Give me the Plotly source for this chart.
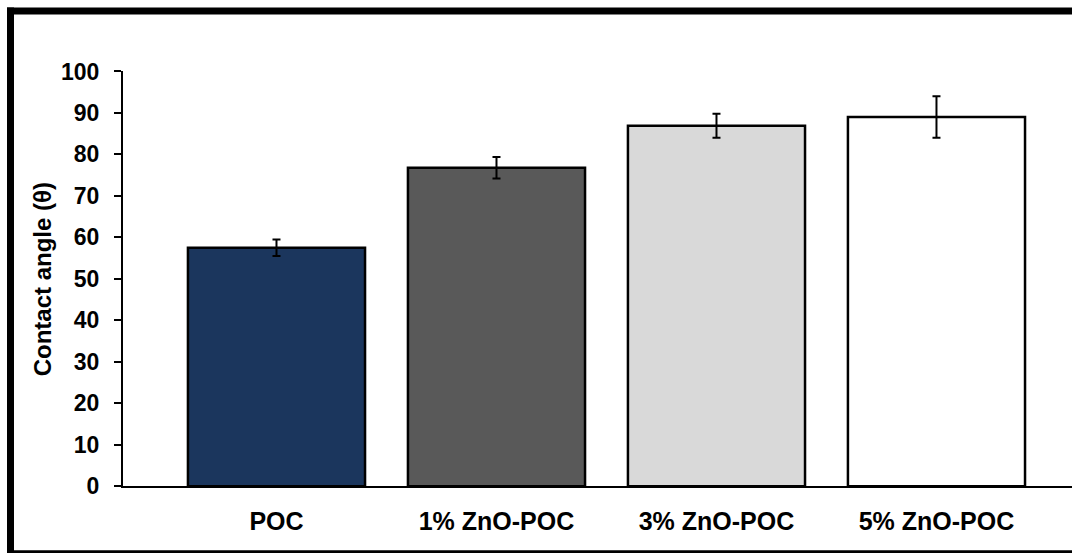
import plotly.graph_objects as go

# Contact angle per coating formulation
categories = ["POC", "1% ZnO-POC", "3% ZnO-POC", "5% ZnO-POC"]
contact_angle = [57.5, 76.8, 86.9, 89.0]
angle_sd = [2.0, 2.6, 2.9, 5.0]
bar_colors = ["#1B365D", "#595959", "#D9D9D9", "#FFFFFF"]
y_ticks = [0, 10, 20, 30, 40, 50, 60, 70, 80, 90, 100]

W, H = 1072, 553
FONT = "Arial, 'Liberation Sans', sans-serif"

# vertical paper extent as laid out on the page
PAPER_TOP, PAPER_H = 12.5, 527.3


def px_x(p):
    return p / W


def px_y(p):
    return 1 - (p - PAPER_TOP) / PAPER_H


positions = list(range(len(categories)))

fig = go.Figure()
fig.add_trace(go.Bar(
    x=positions,
    y=contact_angle,
    width=0.805,
    marker=dict(color=bar_colors, line=dict(color="black", width=2.5)),
    error_y=dict(type="data", array=angle_sd, visible=True,
                 color="black", thickness=2, width=4),
    showlegend=False,
))

fig.update_layout(
    width=W, height=H,
    margin=dict(l=0, r=0, t=0, b=0),
    paper_bgcolor="white",
    plot_bgcolor="white",
    font=dict(family=FONT, color="black"),
    xaxis=dict(
        domain=[px_x(123), 1],
        range=[-0.6977, 3.616],
        tickmode="array",
        tickvals=positions,
        ticktext=categories,
        ticks="",
        showline=True, linecolor="black", linewidth=2,
        showgrid=False, zeroline=False,
        tickfont=dict(size=25, weight="bold", family=FONT),
        ticklabelstandoff=12,
    ),
    yaxis=dict(
        domain=[px_y(486), px_y(71)],
        range=[0, 100],
        tickmode="array",
        tickvals=y_ticks,
        ticks="outside", ticklen=7, tickwidth=2, tickcolor="black",
        showline=True, linecolor="black", linewidth=2,
        showgrid=False, zeroline=False,
        tickfont=dict(size=23, weight="bold", family=FONT),
        ticklabelstandoff=10,
    ),
    annotations=[dict(
        text="Contact angle (θ)",
        x=px_x(42), y=px_y(279), xref="paper", yref="paper",
        xanchor="center", yanchor="middle",
        textangle=-90, showarrow=False,
        font=dict(size=24, weight="bold", family=FONT),
    )],
    shapes=[
        # outer frame: top, left and bottom edges
        dict(type="rect", xref="paper", yref="paper",
             x0=px_x(7), x1=1, y0=px_y(14), y1=px_y(7),
             fillcolor="black", line=dict(width=0), layer="above"),
        dict(type="rect", xref="paper", yref="paper",
             x0=px_x(7), x1=px_x(14), y0=px_y(560), y1=px_y(7),
             fillcolor="black", line=dict(width=0), layer="above"),
        dict(type="rect", xref="paper", yref="paper",
             x0=px_x(7), x1=1, y0=px_y(560), y1=px_y(550),
             fillcolor="black", line=dict(width=0), layer="above"),
    ],
)

fig.write_html("out.html")
